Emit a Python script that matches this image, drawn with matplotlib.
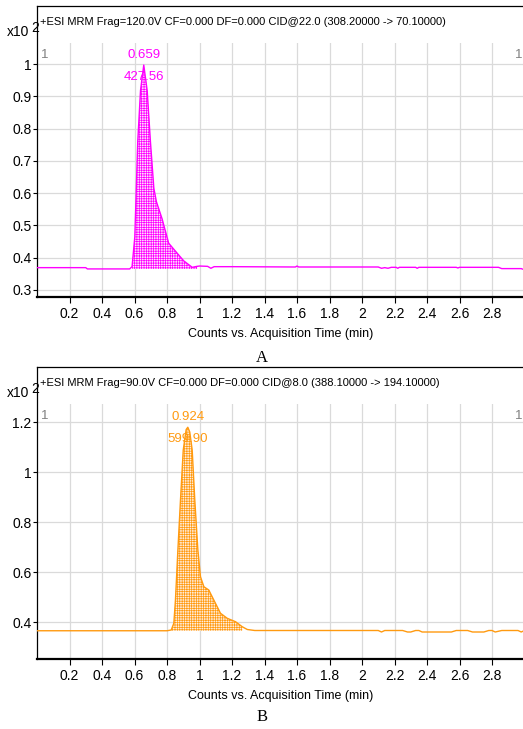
import numpy as np
import matplotlib
matplotlib.use("Agg")
import matplotlib.pyplot as plt
from matplotlib.patches import Rectangle

plt.rcParams['font.family'] = ['Liberation Sans', 'DejaVu Sans']
plt.rcParams['hatch.linewidth'] = 0.5

# Panel A: MRM 308.2 -> 70.1 (counts x10^2)
time_a = [0.00, 0.30, 0.31, 0.57, 0.585, 0.602, 0.620, 0.637, 0.657, 0.678, 0.698,
          0.719, 0.735, 0.770, 0.810, 0.852, 0.903, 0.955, 0.985, 1.00, 1.05, 1.07,
          1.09, 1.20, 1.59, 1.60, 1.61, 2.10, 2.12, 2.14, 2.16, 2.18, 2.21, 2.22,
          2.23, 2.33, 2.34, 2.35, 2.58, 2.59, 2.60, 2.84, 2.86, 2.98, 2.99, 3.00]
resp_a = [0.369, 0.369, 0.365, 0.365, 0.372, 0.465, 0.760, 0.918, 0.997, 0.918, 0.760,
          0.615, 0.573, 0.520, 0.445, 0.420, 0.390, 0.370, 0.373, 0.374, 0.373, 0.367,
          0.372, 0.372, 0.371, 0.374, 0.371, 0.371, 0.367, 0.369, 0.367, 0.370, 0.370, 0.367,
          0.370, 0.370, 0.367, 0.370, 0.370, 0.368, 0.370, 0.370, 0.366, 0.366, 0.364, 0.366]
peak_a = (0.659, "427.56")
fill_a = (0.585, 0.985, 0.365)

# Panel B: MRM 388.1 -> 194.1 (counts x10^2)
time_b = [0.00, 0.80, 0.826, 0.842, 0.852, 0.867, 0.883, 0.900, 0.918, 0.928, 0.940,
          0.955, 0.971, 0.990, 1.006, 1.027, 1.057, 1.088, 1.129, 1.170, 1.222, 1.263,
          1.294, 1.340, 2.10, 2.12, 2.14, 2.25, 2.28, 2.30, 2.33, 2.35, 2.37, 2.55,
          2.58, 2.65, 2.68, 2.75, 2.78, 2.80, 2.82, 2.86, 2.96, 2.98, 3.00]
resp_b = [0.365, 0.365, 0.368, 0.395, 0.488, 0.688, 0.888, 1.088, 1.170, 1.179, 1.160,
          1.088, 0.888, 0.688, 0.581, 0.541, 0.528, 0.488, 0.435, 0.415, 0.401, 0.381,
          0.370, 0.366, 0.366, 0.360, 0.366, 0.366, 0.360, 0.360, 0.366, 0.366, 0.360,
          0.360, 0.366, 0.366, 0.360, 0.360, 0.366, 0.366, 0.360, 0.366, 0.366, 0.360, 0.366]
peak_b = (0.924, "599.90")
fill_b = (0.826, 1.263, 0.365)

titles = ["+ESI MRM Frag=120.0V CF=0.000 DF=0.000 CID@22.0 (308.20000 -> 70.10000)",
          "+ESI MRM Frag=90.0V CF=0.000 DF=0.000 CID@8.0 (388.10000 -> 194.10000)"]
xticks = np.round(np.arange(0.2, 3.01, 0.2), 1)
yticks_a = [0.3, 0.4, 0.5, 0.6, 0.7, 0.8, 0.9, 1.0]
yticks_b = [0.4, 0.6, 0.8, 1.0, 1.2]
xlabel = "Counts vs. Acquisition Time (min)"

W, H = 523, 729
fig = plt.figure(figsize=(W / 100, H / 100), dpi=100)


def fmt(v):
    return "%g" % v


def panel(rect, t, r, peak, fill, color, facec, yticks, ylim, title, letter, letter_y):
    ax = fig.add_axes(rect)
    ax.set_xlim(0, 3.0)
    ax.set_ylim(*ylim)
    ax.set_axisbelow(True)
    ax.grid(True, color='#dadada', lw=0.9)
    # blank header band above the grid
    ax.add_patch(Rectangle((0, 0.872), 1, 0.2, transform=ax.transAxes,
                           facecolor='white', edgecolor='none', zorder=1))
    t = np.array(t)
    r = np.array(r)
    m = (t >= fill[0]) & (t <= fill[1])
    ax.fill_between(t[m], r[m], fill[2], facecolor=facec, edgecolor=color,
                    hatch='+' * 7, linewidth=0, zorder=2)
    ax.plot(t, r, color=color, lw=1.0, zorder=3)

    ax.set_xticks(xticks)
    ax.set_xticklabels([fmt(v) if v < 2.95 else "" for v in xticks])
    ax.set_yticks(yticks)
    ax.set_yticklabels([fmt(v) for v in yticks])
    ax.tick_params(axis='x', length=4, width=0.8, labelsize=10, pad=3)
    ax.tick_params(axis='y', length=3, width=0.8, labelsize=10, pad=1)
    for s in ['top', 'left']:
        ax.spines[s].set_linewidth(0.9)
    ax.spines['bottom'].set_linewidth(1.6)
    ax.spines['right'].set_visible(False)

    ax.set_xlabel(xlabel, fontsize=9)
    ax.xaxis.set_label_coords(0.5, -0.105)

    ax.text(0.006, 0.945, title, transform=ax.transAxes, fontsize=8,
            ha='left', va='center')
    ax.text(0.008, 0.833, "1", transform=ax.transAxes, fontsize=9.5,
            color='#808080', ha='left', va='center')
    ax.text(0.995, 0.833, "1", transform=ax.transAxes, fontsize=9.5,
            color='#808080', ha='right', va='center')
    ax.text(-0.062, 0.91, "x10", transform=ax.transAxes, fontsize=10,
            ha='left', va='center')
    ax.text(-0.012, 0.925, "2", transform=ax.transAxes, fontsize=10,
            ha='left', va='center')

    pk = int(np.argmax(r))
    ax.annotate("%.3f" % peak[0], xy=(t[pk], r[pk]), xytext=(0, 10),
                textcoords='offset pixels', ha='center', va='center',
                color=color, fontsize=9.5, zorder=4)
    ax.annotate(peak[1], xy=(t[pk], r[pk]), xytext=(0, -12),
                textcoords='offset pixels', ha='center', va='center',
                color=color, fontsize=9.5, zorder=4)

    fig.text(262 / W, 1 - letter_y / H, letter, family='Liberation Serif',
             fontsize=12, ha='center', va='center')
    return ax


# axes boxes in pixel terms: left 37, x=3.0 at 524
panel([37 / W, (H - 297) / H, 487.5 / W, 291 / H], time_a, resp_a, peak_a, fill_a,
      '#ff00ff', '#ffe0ff', yticks_a, (0.278, 1.18), titles[0], 'A', 358)
panel([37 / W, (H - 659) / H, 487.5 / W, 292 / H], time_b, resp_b, peak_b, fill_b,
      '#ff9a10', '#ffeedd', yticks_b, (0.252, 1.42), titles[1], 'B', 717)

fig.savefig("out.png", dpi=100)
